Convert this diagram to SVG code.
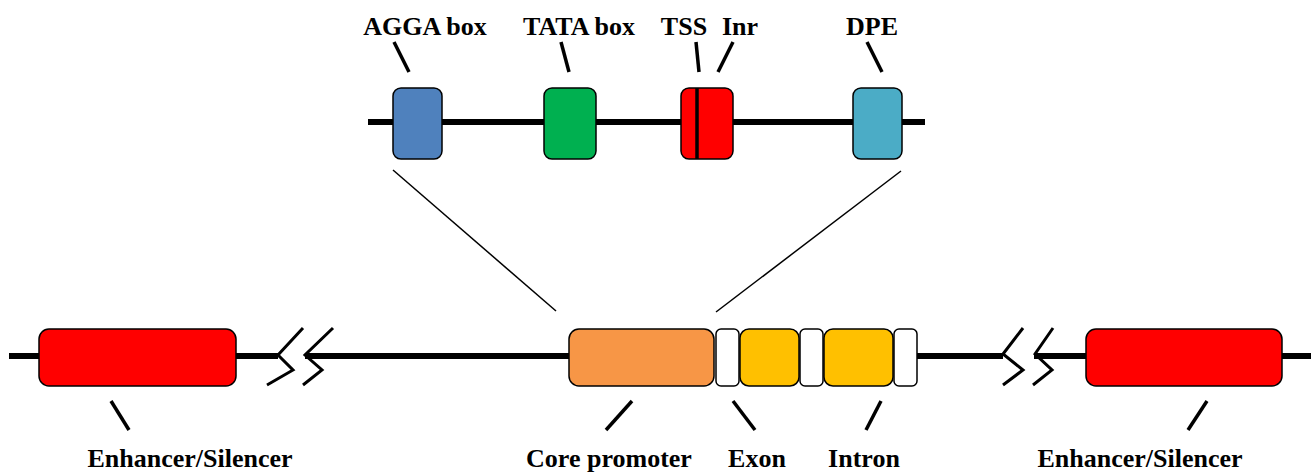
<svg xmlns="http://www.w3.org/2000/svg" width="1315" height="475" viewBox="0 0 1315 475">
  <style>
    .lbl { font-family: "Liberation Serif", "Times New Roman", serif; font-weight: bold; font-size: 26px; fill: #000; text-anchor: middle; }
    .dna { stroke: #000; stroke-width: 6; fill: none; }
    .box { stroke: #000; stroke-width: 1.5; }
    .tick { stroke: #000; stroke-width: 3.5; fill: none; }
    .brk { stroke: #000; stroke-width: 3; fill: none; stroke-linejoin: miter; }
    .zoom { stroke: #000; stroke-width: 1.5; fill: none; }
  </style>

  <!-- DNA strands, zoom lines, label ticks and break marks -->
  <g id="connectors">
    <line class="dna" x1="368" y1="122" x2="925" y2="122"/>
    <line class="dna" x1="9" y1="356" x2="278" y2="356"/>
    <line class="dna" x1="305" y1="356" x2="572" y2="356"/>
    <line class="dna" x1="914" y1="356" x2="1003" y2="356"/>
    <line class="dna" x1="1034" y1="356" x2="1311" y2="356"/>

    <polyline class="brk" points="303,328 278,355 293,370 267,385"/>
    <polyline class="brk" points="333,328 305,355 322,370 303,385"/>
    <polyline class="brk" points="1023,328 1003,354 1023,370 1003,385"/>
    <polyline class="brk" points="1053,328 1035,354 1052,370 1033,385"/>

    <line class="zoom" x1="393" y1="170" x2="556" y2="311"/>
    <line class="zoom" x1="901" y1="171" x2="716" y2="312"/>

    <line class="tick" x1="394" y1="42" x2="409" y2="72"/>
    <line class="tick" x1="561" y1="42" x2="569" y2="72"/>
    <line class="tick" x1="696" y1="42" x2="699" y2="72"/>
    <line class="tick" x1="733" y1="42" x2="718" y2="72"/>
    <line class="tick" x1="867" y1="42" x2="882" y2="72"/>

    <line class="tick" x1="111" y1="401" x2="129" y2="430"/>
    <line class="tick" x1="632" y1="401" x2="606" y2="430"/>
    <line class="tick" x1="733" y1="401" x2="755" y2="430"/>
    <line class="tick" x1="881" y1="401" x2="866" y2="430"/>
    <line class="tick" x1="1207" y1="401" x2="1188" y2="430"/>
  </g>

  <!-- core promoter elements -->
  <g id="agga-box">
    <rect class="box" x="393" y="88" width="49" height="71" rx="8" fill="#4F81BD"/>
    <text class="lbl" x="425" y="35">AGGA box</text>
  </g>
  <g id="tata-box">
    <rect class="box" x="544" y="88" width="52" height="71" rx="8" fill="#00B050"/>
    <text class="lbl" x="579" y="35">TATA box</text>
  </g>
  <g id="tss-inr">
    <rect class="box" x="681" y="88" width="52" height="71" rx="8" fill="#FF0000"/>
    <line x1="697" y1="88" x2="697" y2="159" stroke="#000" stroke-width="3.5"/>
    <text class="lbl" x="684" y="35">TSS</text>
    <text class="lbl" x="740" y="35">Inr</text>
  </g>
  <g id="dpe">
    <rect class="box" x="853" y="88" width="49" height="71" rx="8" fill="#4BACC6"/>
    <text class="lbl" x="872" y="35">DPE</text>
  </g>

  <!-- gene locus -->
  <g id="enhancer-left">
    <rect class="box" x="39" y="329" width="197" height="57" rx="10" fill="#FF0000"/>
    <text class="lbl" x="190" y="467">Enhancer/Silencer</text>
  </g>
  <g id="core-promoter">
    <rect class="box" x="569" y="329" width="145" height="57" rx="10" fill="#F79646"/>
    <text class="lbl" x="609" y="467">Core promoter</text>
  </g>
  <g id="utr-1">
    <rect class="box" x="716" y="329" width="23" height="57" rx="5" fill="#FFFFFF"/>
  </g>
  <g id="exon">
    <rect class="box" x="740" y="329" width="59" height="57" rx="9" fill="#FFC000"/>
    <text class="lbl" x="757" y="467">Exon</text>
  </g>
  <g id="utr-2">
    <rect class="box" x="800" y="329" width="23" height="57" rx="5" fill="#FFFFFF"/>
  </g>
  <g id="intron">
    <rect class="box" x="824" y="329" width="69" height="57" rx="9" fill="#FFC000"/>
    <text class="lbl" x="864" y="467">Intron</text>
  </g>
  <g id="utr-3">
    <rect class="box" x="894" y="329" width="23" height="57" rx="5" fill="#FFFFFF"/>
  </g>
  <g id="enhancer-right">
    <rect class="box" x="1086" y="329" width="196" height="57" rx="10" fill="#FF0000"/>
    <text class="lbl" x="1140" y="467">Enhancer/Silencer</text>
  </g>
</svg>
